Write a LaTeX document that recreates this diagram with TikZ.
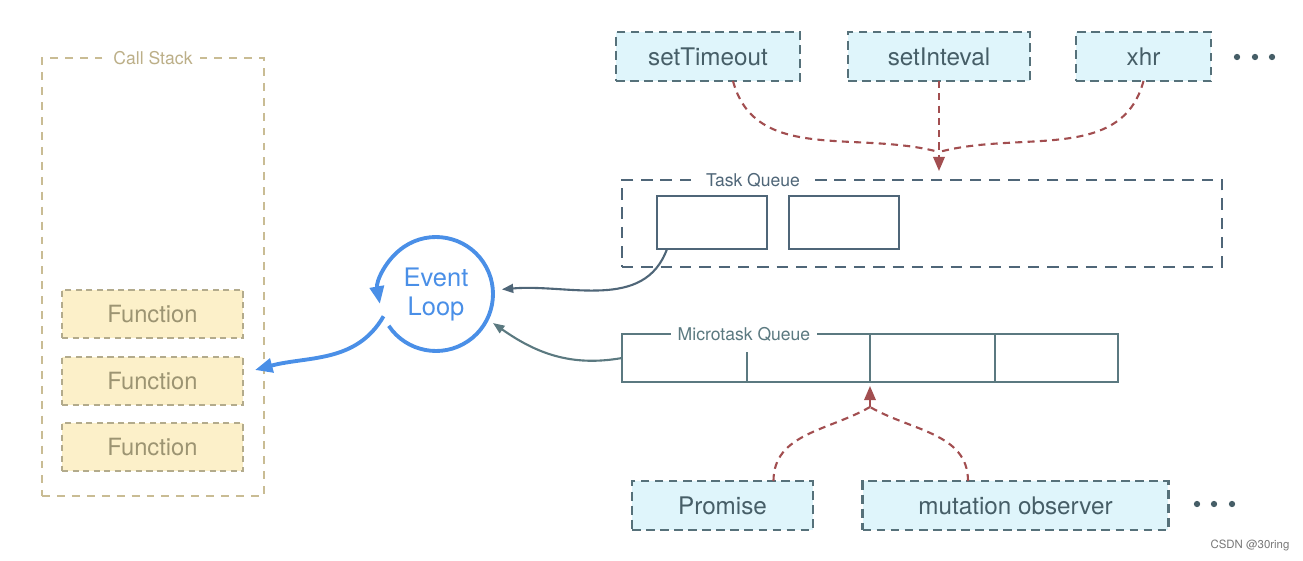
\documentclass[tikz,border=0pt]{standalone}
\usepackage{fontspec}
\setmainfont{TeX Gyre Heros}
\usepackage{xcolor}
\usetikzlibrary{arrows.meta,positioning}

\definecolor{stackline}{HTML}{C9BC94}
\definecolor{stacktext}{HTML}{BCAF88}
\definecolor{fnfill}{HTML}{FCF0C9}
\definecolor{fnline}{HTML}{B3AB8C}
\definecolor{fntext}{HTML}{9C9472}
\definecolor{apifill}{HTML}{DFF5FB}
\definecolor{apiline}{HTML}{56717A}
\definecolor{apitext}{HTML}{465E67}
\definecolor{qline}{HTML}{4F6678}
\definecolor{mline}{HTML}{5B7980}
\definecolor{loopblue}{HTML}{4A8FE7}
\definecolor{cbred}{HTML}{A24E50}
\definecolor{credgray}{HTML}{777777}

\tikzset{
	box/.style={line width=1.3pt,inner sep=0pt,outer sep=0pt},
	fn/.style={box,draw=fnline,fill=fnfill,dash pattern=on 3.5pt off 2.5pt,minimum width=3.62cm,minimum height=0.96cm,text=fntext,font=\fontsize{13.5}{16}\selectfont},
	api/.style={box,draw=apiline,fill=apifill,dash pattern=on 5pt off 3pt,minimum height=0.98cm,text=apitext,font=\fontsize{13.8}{16}\selectfont},
	slot/.style={box,draw=qline,minimum width=2.2cm,minimum height=1.06cm},
	tag/.style={fill=white,inner xsep=4pt,inner ysep=1pt,font=\fontsize{10}{12}\selectfont},
	cb/.style={draw=cbred,line width=1.2pt,dash pattern=on 4pt off 3pt},
	cbtip/.style={cb,-{Triangle[length=8pt,width=6.5pt]}},
	lp/.style={draw=loopblue,line width=2.2pt,-{Triangle[length=10pt,width=8pt]}},
	qa/.style={line width=1.2pt,-{Triangle[length=6.5pt,width=5pt]}},
}

\begin{document}
\begin{tikzpicture}[x=0.02cm,y=-0.02cm]
	\useasboundingbox (0,0) rectangle (1303,561);

	% call stack
	\node[box,draw=stackline,dash pattern=on 4.5pt off 4pt,minimum width=4.44cm,minimum height=8.76cm] (cs) at (153,277) {};
	\node[tag,text=stacktext] (cslbl) at (153,58) {Call Stack};
	\node[fn] (f1) at (152.5,314) {Function};
	\node[fn] (f2) at (152.5,381) {Function};
	\node[fn] (f3) at (152.5,447) {Function};

	% web apis
	\node[api,minimum width=3.68cm] (st) at (708,56.5) {setTimeout};
	\node[api,minimum width=3.64cm] (si) at (939,56.5) {setInteval};
	\node[api,minimum width=2.7cm] (xhr) at (1143.5,56.5) {xhr};
	\foreach \x in {1237,1255,1272}
		\fill[apitext] (\x,57) circle (1.8pt);

	% task queue
	\node[box,draw=qline,dash pattern=on 6.5pt off 4.5pt,minimum width=12cm,minimum height=1.74cm] (tq) at (922,223.5) {};
	\node[tag,text=qline] (tqlbl) at (753,180) {Task Queue};
	\node[slot] (t1) at (712,222.5) {};
	\node[slot] (t2) at (844,222.5) {};

	\coordinate (tj) at (939,152); % join
	\coordinate (ti) at (939,171);
	\draw[cb] ([xshift=0.5cm]st.south) to[out=-75,in=165] (tj);
	\draw[cb] (xhr.south) to[out=-105,in=15] (tj);
	\draw[cbtip] (si.south) -- (ti);

	% event loop
	\node[circle,minimum size=2.28cm,inner sep=0pt,outer sep=0pt,align=center,text=loopblue,font=\fontsize{14.5}{16.5}\selectfont] (loop) at (436,294) {Event\\Loop};
	\draw[lp] (loop.214) arc[start angle=214,end angle=550,radius=1.14cm];
	\coordinate (fin) at (255,370);
	\draw[lp] (loop.203) to[out=240,in=15] (fin);

	% microtask queue
	\node[box,draw=mline,minimum width=9.92cm,minimum height=0.96cm] (mq) at (870,358) {};
	\foreach \x in {870,995}
		\draw[mline,line width=1.3pt] (\x,334) -- (\x,382);
	\draw[mline,line width=1.3pt] (747,352) -- (747,382);
	\node[tag,text=mline] (mqlbl) at (744,334) {Microtask Queue};

	\draw[qa,qline] ([xshift=0.2cm]t1.south west) to[out=-110,in=5] ([shift={(4:0.18cm)}]loop.4);
	\draw[qa,mline] (mq.west) to[out=190,in=-35] ([shift={(-27:0.14cm)}]loop.-27);

	% micro sources
	\node[api,minimum width=3.62cm] (pr) at (722.5,505.5) {Promise};
	\node[api,minimum width=6.12cm] (mo) at (1015.5,505.5) {mutation observer};
	\foreach \x in {1197,1214,1232}
		\fill[apitext] (\x,504) circle (1.8pt);

	\coordinate (mj) at (870,407); % join
	\coordinate (mi) at (870,386);
	\draw[cb] ([xshift=1.02cm]pr.north) to[out=90,in=-150] (mj);
	\draw[cb] ([xshift=-0.95cm]mo.north) to[out=90,in=-30] (mj);
	\draw[cbtip] (mj) -- (mi);

	\node[text=credgray,font=\fontsize{6.5}{8}\selectfont] (credit) at (1250,545) {CSDN @30ring};
\end{tikzpicture}
\end{document}
